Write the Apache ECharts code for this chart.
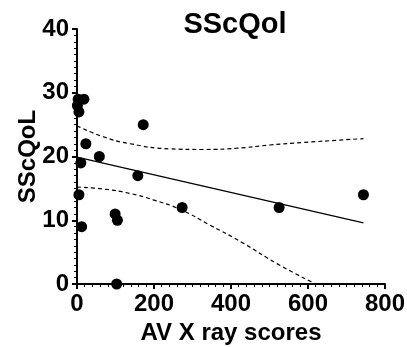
<!DOCTYPE html>
<html>
<head>
<meta charset="utf-8">
<script src="https://cdn.jsdelivr.net/npm/echarts@6/dist/echarts.min.js"></script>
<style>
  html, body { margin: 0; padding: 0; background: #fff; }
  #chart { width: 407px; height: 347px; }
</style>
</head>
<body>
<div id="chart"></div>
<script>
// 散点数据
const xScores = [3, 18, 1, 5, 172, 23, 58, 10, 158, 5, 273, 99, 105, 12, 103, 525, 744];
const qolScores = [29, 29, 28, 27, 25, 22, 20, 19, 17, 14, 12, 11, 10, 9, 0, 12, 14];

// 回归线
const fitX = [0, 744];
const fitY = [19.9, 9.6];

// 95% 置信带
const upperX = [0, 68, 138, 242, 328, 415, 501, 588, 744];
const upperY = [24.8, 23.1, 22.0, 21.2, 21.1, 21.3, 21.8, 22.2, 22.8];
const lowerX = [0, 68, 138, 198, 268, 345, 432, 519, 620];
const lowerY = [15.2, 14.9, 14.2, 13.2, 11.7, 9.25, 6.4, 3.2, 0];

const xTicks = [0, 800, 200];
const yTicks = [0, 40, 10];

const zip = (xs, ys) => xs.map((x, i) => [x, ys[i]]);

const font = 'Liberation Sans, Arial, Helvetica, sans-serif';

function axisOpts() {
  return {
    axisLine: { show: true, onZero: false, lineStyle: { color: '#000', width: 2 } },
    axisTick: { show: true, inside: false, length: 5, lineStyle: { color: '#000', width: 2 } },
    minorTick: { show: true, splitNumber: 10, length: 3, lineStyle: { color: '#000', width: 1 } },
    splitLine: { show: false },
    axisLabel: { margin: 8, color: '#000', fontSize: 24, fontWeight: 'bold', fontFamily: font },
    nameTextStyle: { color: '#000', fontSize: 24, fontWeight: 'bold', fontFamily: font },
    nameMoveOverlap: false,
  };
}

const chart = echarts.init(document.getElementById('chart'));
chart.setOption({
  animation: false,
  title: {
    text: 'SScQol',
    left: 230,
    textAlign: 'center',
    top: 5,
    textStyle: { color: '#000', fontSize: 29, fontWeight: 'bold', fontFamily: font },
  },
  grid: { left: 77, right: 22, top: 29, bottom: 63, outerBoundsMode: 'none', containLabel: false },
  xAxis: Object.assign(axisOpts(), {
    type: 'value',
    min: xTicks[0],
    max: xTicks[1],
    interval: xTicks[2],
    name: 'AV X ray scores',
    nameLocation: 'middle',
    nameGap: 37,
  }),
  yAxis: Object.assign(axisOpts(), {
    type: 'value',
    min: yTicks[0],
    max: yTicks[1],
    interval: yTicks[2],
    name: 'SScQoL',
    nameLocation: 'middle',
    nameGap: 37,
  }),
  series: [
    {
      type: 'line',
      data: zip(upperX, upperY),
      smooth: true,
      symbol: 'none',
      lineStyle: { color: '#000', width: 1.2, type: [4, 3] },
    },
    {
      type: 'line',
      data: zip(lowerX, lowerY),
      smooth: true,
      symbol: 'none',
      lineStyle: { color: '#000', width: 1.2, type: [4, 3] },
    },
    {
      type: 'line',
      data: zip(fitX, fitY),
      symbol: 'none',
      lineStyle: { color: '#000', width: 1.3 },
    },
    {
      type: 'scatter',
      data: zip(xScores, qolScores),
      symbolSize: 11,
      itemStyle: { color: '#000', opacity: 1 },
      z: 5,
    },
  ],
});
</script>
</body>
</html>
